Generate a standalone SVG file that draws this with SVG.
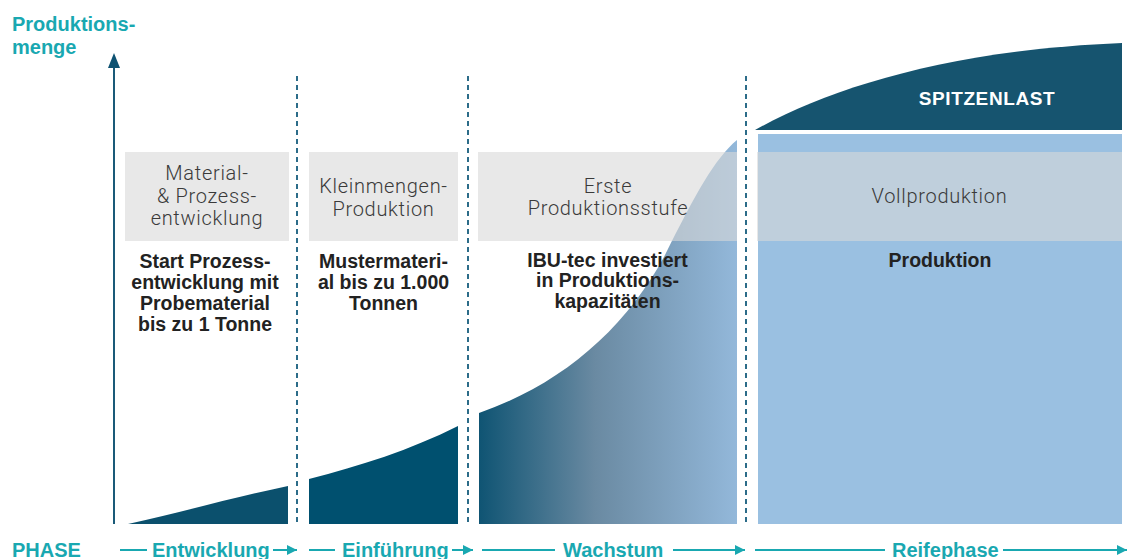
<svg xmlns="http://www.w3.org/2000/svg" width="1133" height="559" viewBox="0 0 1133 559">
<style>
.teal{fill:#19a8b1;font-family:"Liberation Sans",Arial,sans-serif;font-weight:bold;font-size:20px}
.lbl{fill:#3a3a3a;font-family:Roboto,"Liberation Sans",sans-serif;font-weight:300;font-size:20px;letter-spacing:0.7px;text-anchor:middle}
.bold{fill:#222;font-family:"Liberation Sans",Arial,sans-serif;font-weight:bold;font-size:19.5px;text-anchor:middle}
.box{fill:#d8d8d8;fill-opacity:0.6}
.dash{stroke:#2c6c89;stroke-width:2;stroke-dasharray:5 4;fill:none}
.pl{stroke:#19a8b1;stroke-width:2;fill:none}
</style>
<defs>
<linearGradient id="g3" x1="479" y1="0" x2="737" y2="0" gradientUnits="userSpaceOnUse">
<stop offset="0" stop-color="#0f5473"/>
<stop offset="0.45" stop-color="#6a8aa2"/>
<stop offset="1" stop-color="#93b8da"/>
</linearGradient>
<marker id="ah" viewBox="0 0 10 10" refX="10" refY="5" markerWidth="12" markerHeight="10" markerUnits="userSpaceOnUse" orient="auto">
<path d="M0,0 L10,5 L0,10 Z" fill="#19a8b1"/>
</marker>
</defs>
<rect width="1133" height="559" fill="#fff"/>

<g id="axis-title">
<text class="teal" x="12" y="31">Produktions-</text>
<text class="teal" x="12" y="54">menge</text>
</g>

<g id="col1">
<path d="M128,524 C190,510 240,496 288,486 L288,524 Z" fill="#0b506d"/>
<rect class="box" x="125" y="152" width="164" height="89"/>
<text class="lbl" x="207" y="180">Material-</text>
<text class="lbl" x="207" y="203">&amp; Prozess-</text>
<text class="lbl" x="207" y="225">entwicklung</text>
<text class="bold" x="205" y="268">Start Prozess-</text>
<text class="bold" x="205" y="289">entwicklung mit</text>
<text class="bold" x="205" y="310">Probematerial</text>
<text class="bold" x="205" y="331">bis zu 1 Tonne</text>
</g>

<g id="col2">
<path d="M309,479 C360,466 410,450 458,426 L458,524 L309,524 Z" fill="#00506f"/>
<rect class="box" x="309" y="152" width="149" height="89"/>
<text class="lbl" x="383.5" y="193">Kleinmengen-</text>
<text class="lbl" x="383.5" y="216">Produktion</text>
<text class="bold" x="383.5" y="268">Mustermateri-</text>
<text class="bold" x="383.5" y="289">al bis zu 1.000</text>
<text class="bold" x="383.5" y="310">Tonnen</text>
</g>

<g id="col3">
<path d="M479,413 C560,385 625,330 665,255 C695,195 715,158 737,140 L737,524 L479,524 Z" fill="url(#g3)"/>
<rect class="box" x="478" y="152" width="259" height="89"/>
<text class="lbl" x="608" y="193">Erste</text>
<text class="lbl" x="608" y="215">Produktionsstufe</text>
<text class="bold" x="607.5" y="267">IBU-tec investiert</text>
<text class="bold" x="607.5" y="287">in Produktions-</text>
<text class="bold" x="607.5" y="308">kapazitäten</text>
</g>

<g id="col4">
<rect x="758" y="134" width="364" height="390" fill="#9ac0e1"/>
<rect class="box" x="757" y="152" width="365" height="89"/>
<text class="lbl" x="939.5" y="203">Vollproduktion</text>
<text class="bold" x="940" y="267">Produktion</text>
</g>

<g id="spitzenlast">
<path d="M755,130 C830,88 950,50 1122,43 L1122,130 Z" fill="#16546f"/>
<text x="987" y="105" fill="#fff" font-family="Liberation Sans, Arial, sans-serif" font-weight="bold" font-size="19" letter-spacing="0.6" text-anchor="middle">SPITZENLAST</text>
</g>

<g id="connectors">
<line x1="114" y1="524" x2="114" y2="66" stroke="#1a5a78" stroke-width="2"/>
<path d="M114,53 L120,68 L108,68 Z" fill="#0e5272"/>
<line class="dash" x1="297" y1="76" x2="297" y2="524"/>
<line class="dash" x1="468" y1="76" x2="468" y2="524"/>
<line class="dash" x1="746" y1="76" x2="746" y2="524"/>
<line class="pl" x1="120" y1="550" x2="147" y2="550"/>
<line class="pl" x1="273" y1="550" x2="297" y2="550" marker-end="url(#ah)"/>
<line class="pl" x1="309" y1="550" x2="335" y2="550"/>
<line class="pl" x1="452" y1="550" x2="473" y2="550" marker-end="url(#ah)"/>
<line class="pl" x1="482" y1="550" x2="555" y2="550"/>
<line class="pl" x1="673" y1="550" x2="745" y2="550" marker-end="url(#ah)"/>
<line class="pl" x1="755" y1="550" x2="885" y2="550"/>
<line class="pl" x1="1003" y1="550" x2="1127" y2="550" marker-end="url(#ah)"/>
</g>

<g id="phases">
<text class="teal" x="12" y="557">PHASE</text>
<text class="teal" x="152" y="557">Entwicklung</text>
<text class="teal" x="342" y="557">Einführung</text>
<text class="teal" x="563" y="557">Wachstum</text>
<text class="teal" x="892" y="557">Reifephase</text>
</g>
</svg>
